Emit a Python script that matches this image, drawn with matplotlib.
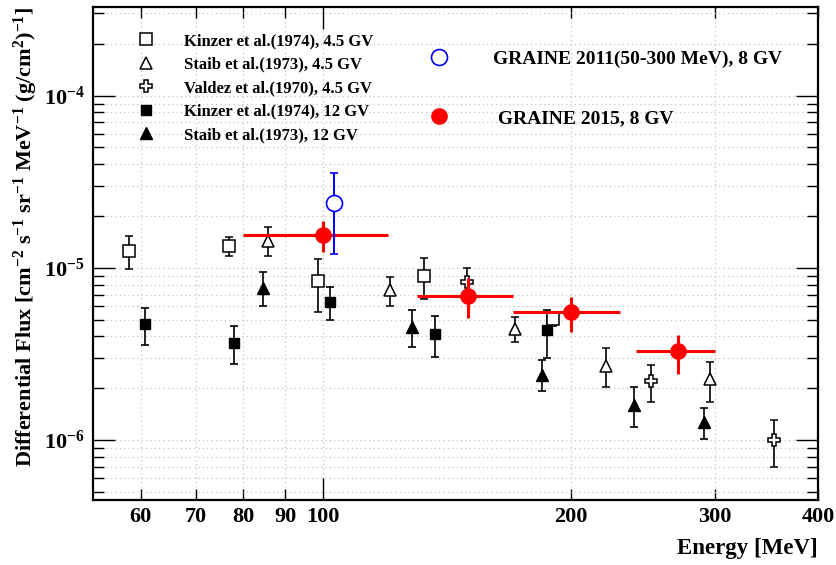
import matplotlib
matplotlib.use('Agg')
import matplotlib.pyplot as plt
import numpy as np
from matplotlib.lines import Line2D
from matplotlib.ticker import LogLocator, NullFormatter

plt.rcParams['font.family'] = ['Liberation Serif', 'DejaVu Serif']
plt.rcParams['font.weight'] = 'bold'
plt.rcParams['mathtext.fontset'] = 'custom'
plt.rcParams['mathtext.rm'] = 'Liberation Serif:bold'
plt.rcParams['mathtext.it'] = 'Liberation Serif:bold'
plt.rcParams['mathtext.bf'] = 'Liberation Serif:bold'
plt.rcParams['mathtext.default'] = 'rm'

# ---------------- data ----------------
kinzer45_E = [58.1, 76.8, 98.7, 132.7, 190.4]
kinzer45_F = [1.256e-5, 1.336e-5, 8.37e-6, 8.99e-6, 5.02e-6]
kinzer45_hi = [1.534e-5, 1.508e-5, 1.12e-5, 1.14e-5, 5.5e-6]
kinzer45_lo = [0.983e-5, 1.165e-5, 5.53e-6, 6.6e-6, 4.6e-6]

staib45_E = [85.8, 120.6, 171.2, 221.1, 295.4]
staib45_F = [1.434e-5, 7.42e-6, 4.42e-6, 2.70e-6, 2.25e-6]
staib45_hi = [1.72e-5, 8.87e-6, 5.2e-6, 3.41e-6, 2.85e-6]
staib45_lo = [1.165e-5, 6.02e-6, 3.69e-6, 2.04e-6, 1.66e-6]

valdez_E = [149.6, 250.4, 353.4]
valdez_F = [8.23e-6, 2.20e-6, 1.0e-6]
valdez_hi = [1.0e-5, 2.73e-6, 1.30e-6]
valdez_lo = [6.7e-6, 1.67e-6, 0.70e-6]

kinzer12_E = [60.8, 77.9, 102.1, 136.7, 187.4]
kinzer12_F = [4.71e-6, 3.67e-6, 6.35e-6, 4.12e-6, 4.35e-6]
kinzer12_hi = [5.81e-6, 4.59e-6, 7.76e-6, 5.23e-6, 5.68e-6]
kinzer12_lo = [3.56e-6, 2.76e-6, 4.97e-6, 3.03e-6, 3.0e-6]

staib12_E = [84.4, 128.2, 184.9, 238.9, 290.6]
staib12_F = [7.63e-6, 4.55e-6, 2.39e-6, 1.59e-6, 1.27e-6]
staib12_hi = [9.44e-6, 5.7e-6, 2.91e-6, 2.04e-6, 1.54e-6]
staib12_lo = [6.0e-6, 3.48e-6, 1.92e-6, 1.19e-6, 1.02e-6]

g2011_E = [103.0]
g2011_F = [2.38e-5]
g2011_hi = [3.56e-5]
g2011_lo = [1.196e-5]

g2015_E = [100.0, 150.0, 200.0, 270.0]
g2015_Elo = [80.0, 130.0, 170.0, 240.0]
g2015_Ehi = [120.0, 170.0, 230.0, 300.0]
g2015_F = [1.547e-5, 6.91e-6, 5.53e-6, 3.27e-6]
g2015_hi = [1.87e-5, 8.68e-6, 6.78e-6, 4.1e-6]
g2015_lo = [1.238e-5, 5.15e-6, 4.25e-6, 2.41e-6]

x_major = [100]
x_minor = [60, 70, 80, 90, 200, 300, 400]

labels_left = ["Kinzer et al.(1974), 4.5 GV", "Staib et al.(1973), 4.5 GV",
               "Valdez et al.(1970), 4.5 GV", "Kinzer et al.(1974), 12 GV",
               "Staib et al.(1973), 12 GV"]
labels_right = ["GRAINE 2011(50-300 MeV), 8 GV", " GRAINE 2015, 8 GV"]


def yerr(F, lo, hi):
    F = np.asarray(F); lo = np.asarray(lo); hi = np.asarray(hi)
    return [F - lo, hi - F]


fig = plt.figure(figsize=(8.36, 5.65), dpi=100)
ax = fig.add_axes([93/836, 65/565, 725/836, 493/565])
ax.set_xscale('log')
ax.set_yscale('log')
ax.set_xlim(52.5, 400)
ax.set_ylim(4.49e-7, 3.27e-4)

ax.set_axisbelow(True)
ax.grid(which='both', color='#c4c4c4', linestyle=(0, (1, 2.5)), linewidth=0.9)

ekw = dict(ecolor='black', elinewidth=1.2, capsize=3.2, capthick=1.2, linestyle='none')
ax.errorbar(kinzer12_E, kinzer12_F, yerr=yerr(kinzer12_F, kinzer12_lo, kinzer12_hi),
            marker='s', ms=7.5, mfc='black', mec='black', **ekw, zorder=3)
ax.errorbar(staib12_E, staib12_F, yerr=yerr(staib12_F, staib12_lo, staib12_hi),
            marker='^', ms=8.0, mfc='black', mec='black', **ekw, zorder=3)
ax.errorbar(kinzer45_E, kinzer45_F, yerr=yerr(kinzer45_F, kinzer45_lo, kinzer45_hi),
            marker='s', ms=8.0, mfc='white', mec='black', mew=1.1, **ekw, zorder=4)
ax.errorbar(staib45_E, staib45_F, yerr=yerr(staib45_F, staib45_lo, staib45_hi),
            marker='^', ms=8.5, mfc='white', mec='black', mew=1.1, **ekw, zorder=4)
ax.errorbar(valdez_E, valdez_F, yerr=yerr(valdez_F, valdez_lo, valdez_hi),
            marker='P', ms=9.0, mfc='white', mec='black', mew=1.1, **ekw, zorder=4)

g15E = np.asarray(g2015_E)
ax.errorbar(g2015_E, g2015_F, yerr=yerr(g2015_F, g2015_lo, g2015_hi),
            xerr=[g15E - np.asarray(g2015_Elo), np.asarray(g2015_Ehi) - g15E],
            marker='o', ms=11, mfc='red', mec='red', ecolor='red', elinewidth=2.2,
            capsize=0, linestyle='none', zorder=5)
ax.errorbar(g2011_E, g2011_F, yerr=yerr(g2011_F, g2011_lo, g2011_hi),
            marker='o', ms=11.5, mfc='white', mec='blue', mew=1.2, ecolor='blue',
            elinewidth=1.4, capsize=3.2, capthick=1.4, linestyle='none', zorder=6)

# ticks
ax.set_xticks(x_major, [str(v) for v in x_major])
ax.set_xticks(x_minor, [str(v) for v in x_minor], minor=True)
ax.yaxis.set_major_locator(LogLocator(base=10, numticks=10))
ax.yaxis.set_minor_locator(LogLocator(base=10, subs=np.arange(2, 10), numticks=20))
ax.yaxis.set_minor_formatter(NullFormatter())
ax.tick_params(which='both', direction='in', top=True, right=True, width=1.0, labelsize=16)
ax.tick_params(which='major', length=15.5)
ax.tick_params(which='minor', length=8)
ax.tick_params(axis='x', which='both', pad=5)
ax.tick_params(axis='y', which='both', pad=6)
for sp in ax.spines.values():
    sp.set_linewidth(1.6)

ax.set_xlabel('Energy [MeV]', fontsize=16.5, fontweight='bold', loc='right', labelpad=8)
ax.set_ylabel(r'Differential Flux [cm$^{-2}$ s$^{-1}$ sr$^{-1}$ MeV$^{-1}$ (g/cm$^{2}$)$^{-1}$]',
              fontsize=16, fontweight='bold', loc='top', labelpad=3)

# legends
h_left = [
    Line2D([], [], marker='s', ms=8.0, mfc='white', mec='black', mew=1.1, linestyle='none'),
    Line2D([], [], marker='^', ms=8.5, mfc='white', mec='black', mew=1.1, linestyle='none'),
    Line2D([], [], marker='P', ms=9.0, mfc='white', mec='black', mew=1.1, linestyle='none'),
    Line2D([], [], marker='s', ms=7.5, mfc='black', mec='black', linestyle='none'),
    Line2D([], [], marker='^', ms=8.0, mfc='black', mec='black', linestyle='none'),
]
leg1 = ax.legend(h_left, labels_left, loc='upper left', bbox_to_anchor=(138/836, 1 - 33/565),
                 bbox_transform=fig.transFigure, frameon=False,
                 handlelength=1.0, handletextpad=1.75, labelspacing=0.45,
                 borderpad=0, borderaxespad=0, prop={'weight': 'bold', 'size': 12})
ax.add_artist(leg1)
h_right = [
    Line2D([], [], marker='o', ms=11.5, mfc='white', mec='blue', mew=1.2, linestyle='none'),
    Line2D([], [], marker='o', ms=11, mfc='red', mec='red', linestyle='none'),
]
leg2 = ax.legend(h_right, labels_right, loc='upper left', bbox_to_anchor=(429/836, 1 - 50/565),
                 bbox_transform=fig.transFigure, frameon=False,
                 handlelength=1.0, handletextpad=2.28, labelspacing=2.16,
                 borderpad=0, borderaxespad=0, prop={'weight': 'bold', 'size': 14})

fig.savefig('out.png', dpi=100)
